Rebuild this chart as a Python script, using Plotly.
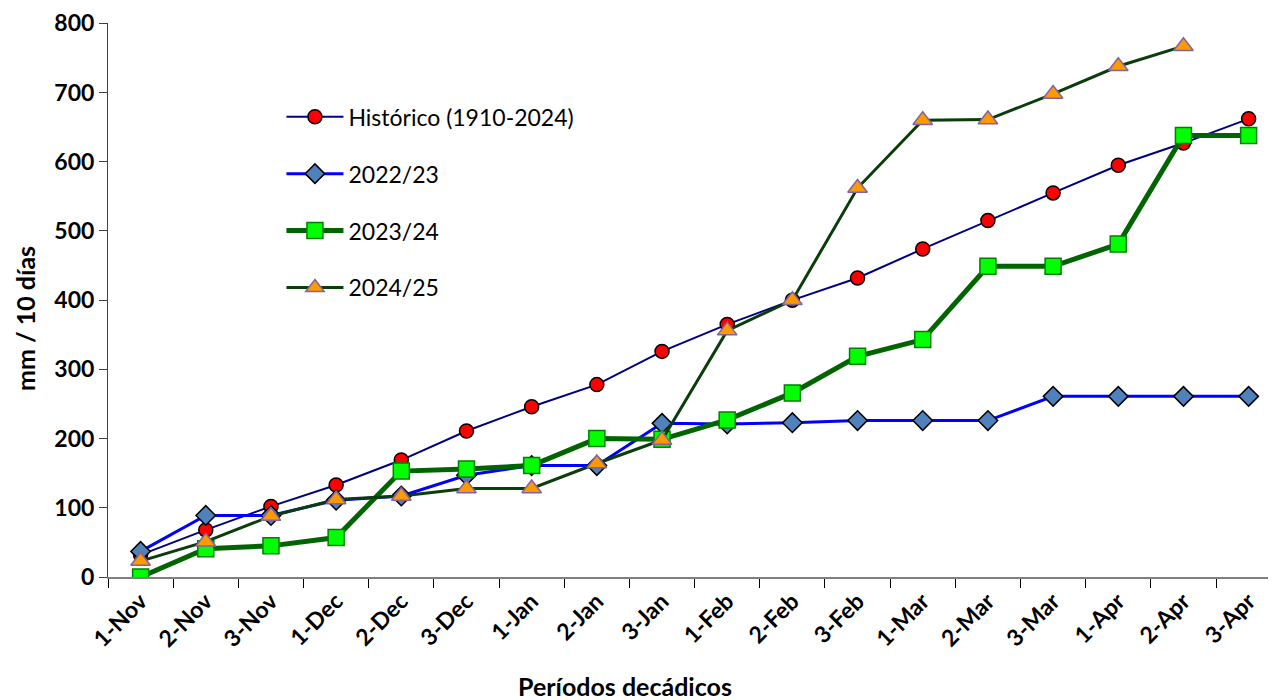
import plotly.graph_objects as go

categories = ["1-Nov", "2-Nov", "3-Nov", "1-Dec", "2-Dec", "3-Dec", "1-Jan", "2-Jan", "3-Jan",
              "1-Feb", "2-Feb", "3-Feb", "1-Mar", "2-Mar", "3-Mar", "1-Apr", "2-Apr", "3-Apr"]

historico = [32, 68, 102, 133, 169, 211, 246, 278, 326, 365, 400, 432, 474, 515, 555, 595, 627, 662]
s2022_23 = [37, 89, 89, 111, 117, 147, 161, 161, 222, 221, 223, 226, 226, 226, 261, 261, 261, 261]
s2023_24 = [0, 41, 45, 57, 153, 156, 161, 200, 199, 227, 266, 319, 343, 449, 449, 481, 638, 638]
s2024_25 = [23, 51, 88, 112, 117, 128, 128, 164, 198, 356, 400, 562, 660, 661, 698, 738, 767, None]

y_ticks = [0, 100, 200, 300, 400, 500, 600, 700, 800]

FONT = "Lato"

fig = go.Figure()
fig.add_trace(go.Scatter(
    x=categories, y=historico, name="Histórico (1910-2024)", mode="lines+markers",
    line=dict(color="#000080", width=2),
    marker=dict(symbol="circle", size=14, color="#FF0000", line=dict(color="#000000", width=1.5)),
    legendgroup="a"))
fig.add_trace(go.Scatter(
    x=categories, y=s2022_23, name="2022/23", mode="lines+markers",
    line=dict(color="#0000FF", width=3),
    marker=dict(symbol="diamond", size=15, color="#4F81BD", line=dict(color="#000000", width=1.5)),
    legendgroup="b"))
fig.add_trace(go.Scatter(
    x=categories, y=s2023_24, name="2023/24", mode="lines+markers",
    line=dict(color="#006400", width=5),
    marker=dict(symbol="square", size=16, color="#00FF00", line=dict(color="#008000", width=1.5)),
    legendgroup="c"))
fig.add_trace(go.Scatter(
    x=categories, y=s2024_25, name="2024/25", mode="lines+markers",
    line=dict(color="#0B3D0B", width=3),
    marker=dict(symbol="triangle-up", size=17, color="#FF9900", line=dict(color="#8064A2", width=1.5)),
    legendgroup="d"))

fig.update_layout(
    width=1268, height=692,
    margin=dict(l=100, r=0, t=13, b=123),
    paper_bgcolor="white", plot_bgcolor="white",
    font=dict(family=FONT, color="#000000"),
    showlegend=True,
    legend=dict(x=0.1485, y=0.8695, xanchor="left", yanchor="top",
                font=dict(family=FONT, size=23, color="#000000"),
                bgcolor="rgba(0,0,0,0)", tracegroupgap=24, itemwidth=57),
    xaxis=dict(type="category", range=[-0.5, 17.42], tickson="boundaries",
               showline=True, linecolor="#808080", linewidth=1.5,
               ticks="outside", ticklen=9, tickcolor="#000000", tickwidth=1,
               tickangle=-45, showgrid=False, zeroline=False,
               tickfont=dict(family=FONT, size=23, color="#000000", weight="bold")),
    yaxis=dict(range=[0, 800.5], tickvals=y_ticks, showline=True, linecolor="#404040", linewidth=1,
               ticks="outside", ticklen=8, tickcolor="#404040", showgrid=False, zeroline=False,
               ticklabeloverflow="allow",
               tickfont=dict(family=FONT, size=23, color="#000000", weight="bold")),
    annotations=[
        dict(text="<b>Períodos decádicos</b>", xref="paper", yref="paper", x=0.4423, y=-0.196,
             xanchor="center", yanchor="middle", showarrow=False,
             font=dict(family=FONT, size=25, color="#000000")),
        dict(text="<b>mm / 10 días</b>", xref="paper", yref="paper", x=-0.071, y=0.466,
             xanchor="center", yanchor="middle", textangle=-90, showarrow=False,
             font=dict(family=FONT, size=25, color="#000000")),
    ],
)

fig.write_html("out.html")
